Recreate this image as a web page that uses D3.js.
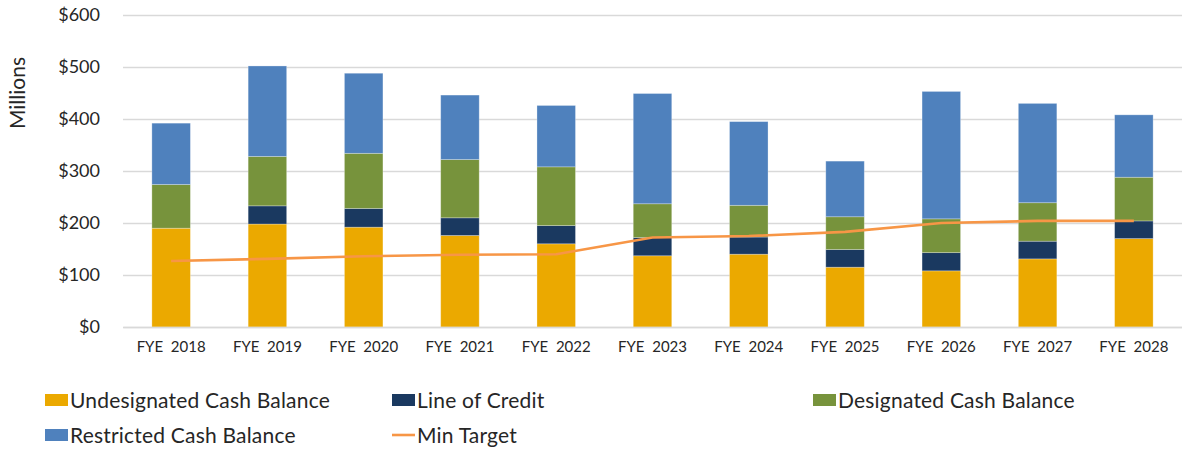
<!doctype html>
<html lang="en">
<head>
  <meta charset="UTF-8">
  <title>Cash Balance</title>
  <script src="https://cdn.jsdelivr.net/npm/d3@7"></script>
  <style>
    body { margin: 0; background: #fff; }
    text { font-family: "Lato", sans-serif; fill: #262626; }
  </style>
</head>
<body>
  <script>

    var years = ["FYE  2018", "FYE  2019", "FYE  2020", "FYE  2021", "FYE  2022", "FYE  2023",
                 "FYE  2024", "FYE  2025", "FYE  2026", "FYE  2027", "FYE  2028"];

    var undesignated = [190, 198, 192, 176, 160, 137, 140, 115, 108, 131, 170];
    var lineOfCredit = [0, 35, 36, 34, 35, 35, 33, 34, 35, 34, 34];
    var designated   = [84, 95, 106, 112, 113, 65, 61, 63, 65, 74, 84];
    var restricted   = [118, 174, 154, 124, 118, 212, 161, 107, 245, 191, 120];
    var minTarget    = [127, 131, 136, 139, 140, 172, 175, 183, 200, 204, 204];

    var yTicks = [0, 100, 200, 300, 400, 500, 600];

    var seriesNames = ["Undesignated Cash Balance", "Line of Credit", "Designated Cash Balance", "Restricted Cash Balance"];
    var colors = ["#EBA900", "#1A3960", "#77933C", "#4F81BD"];
    var lineColor = "#F79646";

    var width = 1182, height = 450;
    var margin = { left: 123, right: 0, top: 15, bottom: 123 };

    var svg = d3.select("body").append("svg")
      .attr("width", width)
      .attr("height", height);

    var x = d3.scaleBand()
      .domain(years)
      .range([margin.left, width - margin.right])
      .paddingInner(0.6)
      .paddingOuter(0.3);

    var y = d3.scaleLinear()
      .domain([0, 600])
      .range([327, 15]);

    // grid lines + y labels
    var yAxis = d3.axisLeft(y)
      .tickValues(yTicks)
      .tickSize(-(width - margin.left))
      .tickPadding(23)
      .tickFormat(function (d) { return "$" + d; });

    var gy = svg.append("g")
      .attr("transform", "translate(" + margin.left + ",0)")
      .call(yAxis);
    gy.select(".domain").remove();
    gy.selectAll(".tick line").attr("stroke", "#d9d9d9").attr("stroke-width", 1.3);
    gy.selectAll(".tick text")
      .style("font-size", "18px")
      .attr("fill", "#262626");

    svg.append("text")
      .attr("transform", "translate(25,93) rotate(-90)")
      .attr("text-anchor", "middle")
      .style("font-size", "21px")
      .text("Millions");

    // stacked bars
    var rows = years.map(function (yr, i) {
      return { year: yr, s0: undesignated[i], s1: lineOfCredit[i], s2: designated[i], s3: restricted[i] };
    });

    var stack = d3.stack().keys(["s0", "s1", "s2", "s3"]);
    var layers = stack(rows);

    svg.selectAll("g.layer")
      .data(layers)
      .enter()
      .append("g")
      .attr("class", "layer")
      .attr("fill", function (d, i) { return colors[i]; })
      .selectAll("rect")
      .data(function (d) { return d; })
      .enter()
      .append("rect")
      .attr("x", function (d) { return x(d.data.year); })
      .attr("width", x.bandwidth())
      .attr("y", function (d) { return y(d[1]); })
      .attr("height", function (d) { return y(d[0]) - y(d[1]); })
      .attr("stroke", "#ffffff")
      .attr("stroke-opacity", 0.35)
      .attr("stroke-width", 0.8);

    // min target line
    var line = d3.line()
      .x(function (d, i) { return x(years[i]) + x.bandwidth() / 2; })
      .y(function (d) { return y(d); });

    svg.append("path")
      .datum(minTarget)
      .attr("d", line)
      .attr("fill", "none")
      .attr("stroke", lineColor)
      .attr("stroke-width", 2.6);

    // x labels
    var xAxis = d3.axisBottom(x).tickSize(0).tickPadding(14);
    var gx = svg.append("g")
      .attr("transform", "translate(0,327)")
      .call(xAxis);
    gx.select(".domain").attr("stroke", "#d9d9d9").attr("stroke-width", 1.3);
    gx.selectAll(".tick text")
      .style("font-size", "15px")
      .style("white-space", "pre")
      .attr("fill", "#262626");

    // legend
    var legendItems = [
      { name: seriesNames[0], color: colors[0], type: "rect", x: 45, y: 400 },
      { name: seriesNames[1], color: colors[1], type: "rect", x: 392, y: 400 },
      { name: seriesNames[2], color: colors[2], type: "rect", x: 813, y: 400 },
      { name: seriesNames[3], color: colors[3], type: "rect", x: 45, y: 435 },
      { name: "Min Target", color: lineColor, type: "line", x: 392, y: 435 }
    ];

    var lg = svg.selectAll("g.legend")
      .data(legendItems)
      .enter()
      .append("g")
      .attr("class", "legend")
      .attr("transform", function (d) { return "translate(" + d.x + "," + d.y + ")"; });

    lg.filter(function (d) { return d.type === "rect"; })
      .append("rect")
      .attr("x", 0).attr("y", -6)
      .attr("width", 23).attr("height", 12)
      .attr("fill", function (d) { return d.color; });

    lg.filter(function (d) { return d.type === "line"; })
      .append("line")
      .attr("x1", 0).attr("x2", 23)
      .attr("y1", 0).attr("y2", 0)
      .attr("stroke", function (d) { return d.color; })
      .attr("stroke-width", 2.6);

    lg.append("text")
      .attr("x", 25)
      .attr("dy", "0.36em")
      .style("font-size", "21px")
      .style("letter-spacing", "0.2px")
      .text(function (d) { return d.name; });

  </script>
</body>
</html>
